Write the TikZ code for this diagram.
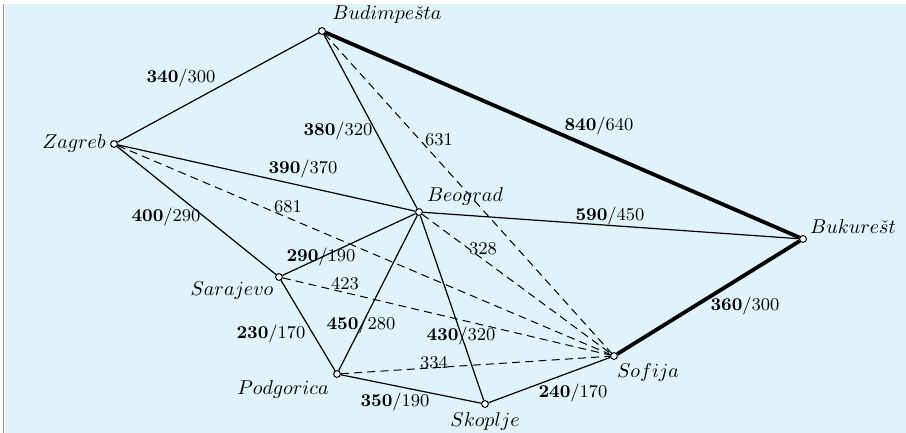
\documentclass[tikz,border=0pt]{standalone}
\definecolor{bgblue}{RGB}{224,243,250}
\definecolor{framegray}{RGB}{150,150,150}
\begin{document}
\begin{tikzpicture}[x=0.5pt,y=-0.5pt,
  city/.style={circle,draw,fill=white,inner sep=0pt,minimum size=3.4pt,line width=0.5pt},
  cityl/.style={inner sep=0pt,font=\normalsize},
  elab/.style={inner sep=0pt,font=\small},
  road/.style={line width=0.6pt},
  bestroad/.style={line width=1.9pt},
  airline/.style={line width=0.5pt,dash pattern=on 4pt off 2.6pt}]
\useasboundingbox (0,0) rectangle (906,433);
\fill[white] (0,0) rectangle (906,433);
\fill[bgblue] (4.5,4) rectangle (906,433);
\draw[framegray,line width=0.7pt] (3.6,4) -- (3.6,433);
% cities
\node[city] (bud) at (322,31) {};
\node[city] (zag) at (114,144) {};
\node[city] (beo) at (419,212) {};
\node[city] (buk) at (803,239) {};
\node[city] (sar) at (279,277) {};
\node[city] (sof) at (614,356) {};
\node[city] (pod) at (337,374) {};
\node[city] (sko) at (485,404) {};
% city names
\node[cityl] (budl) at (387,15) {$Budimpe\check{s}ta$};
\node[cityl] (zagl) at (74,144) {$Zagreb$};
\node[cityl] (beol) at (465,197) {$Beograd$};
\node[cityl] (bukl) at (853,227) {$Bukure\check{s}t$};
\node[cityl] (sarl) at (232,291) {$Sarajevo$};
\node[cityl] (podl) at (283,389) {$Podgorica$};
\node[cityl] (skol) at (485,421) {$Skoplje$};
\node[cityl] (sofl) at (648,372) {$Sofija$};
% roads
\draw[road] (zag) -- (bud);
\draw[road] (bud) -- (beo);
\draw[road] (zag) -- (beo);
\draw[road] (zag) -- (sar);
\draw[road] (beo) -- (buk);
\draw[road] (sar) -- (beo);
\draw[road] (sar) -- (pod);
\draw[road] (pod) -- (beo);
\draw[road] (beo) -- (sko);
\draw[road] (pod) -- (sko);
\draw[road] (sko) -- (sof);
\draw[bestroad] (bud) -- (buk);
\draw[bestroad] (buk) -- (sof);
% air distances
\draw[airline] (bud) -- (sof);
\draw[airline] (zag) -- (sof);
\draw[airline] (beo) -- (sof);
\draw[airline] (sar) -- (sof);
\draw[airline] (pod) -- (sof);
% edge labels
\node[elab] (l1) at (181,78) {\textbf{340}/300};
\node[elab] (l2) at (338,131) {\textbf{380}/320};
\node[elab] (l3) at (439,140) {631};
\node[elab] (l4) at (303,169) {\textbf{390}/370};
\node[elab] (l5) at (288,207) {681};
\node[elab] (l6) at (166,217) {\textbf{400}/290};
\node[elab] (l7) at (599,126) {\textbf{840}/640};
\node[elab] (l8) at (610,216) {\textbf{590}/450};
\node[elab] (l9) at (483,249) {328};
\node[elab] (l10) at (745,306) {\textbf{360}/300};
\node[elab] (l11) at (461,336) {\textbf{430}/320};
\node[elab] (l12) at (573,393) {\textbf{240}/170};
\node[elab] (l13) at (321,257) {\textbf{290}/190};
\node[elab] (l14) at (345,284) {423};
\node[elab] (l15) at (271,334) {\textbf{230}/170};
\node[elab] (l16) at (361,325) {\textbf{450}/280};
\node[elab] (l17) at (434,363) {334};
\node[elab] (l18) at (395,402) {\textbf{350}/190};
\end{tikzpicture}
\end{document}
